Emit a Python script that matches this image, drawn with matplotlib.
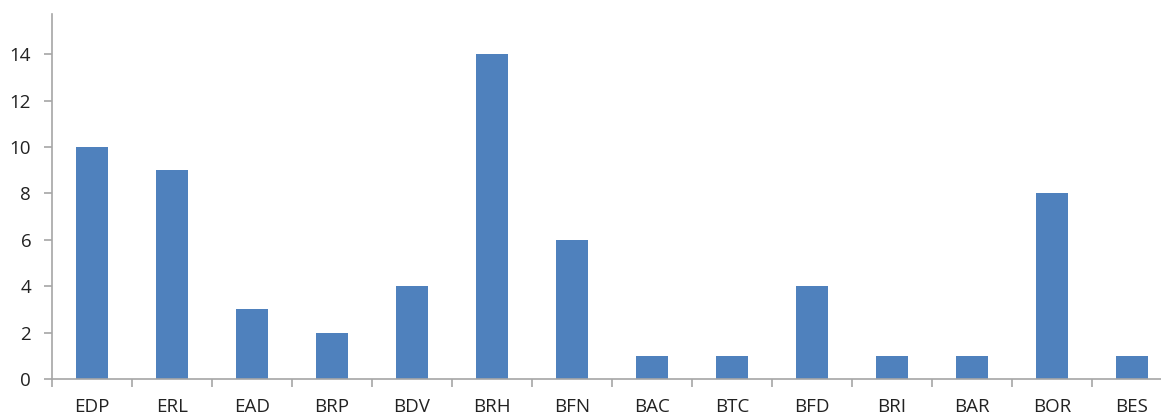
import matplotlib.pyplot as plt

categorias = ['EDP', 'ERL', 'EAD', 'BRP', 'BDV', 'BRH', 'BFN', 'BAC', 'BTC', 'BFD', 'BRI', 'BAR', 'BOR', 'BES']
valores = [10, 9, 3, 2, 4, 14, 6, 1, 1, 4, 1, 1, 8, 1]

plt.rcParams['font.family'] = ['Open Sans', 'DejaVu Sans']

fig = plt.figure(figsize=(11.61, 4.17), dpi=100)
ax = fig.add_axes([52/1161, 38/417, 1120/1161, 365/417])

x = range(len(categorias))
ax.bar(x, valores, width=0.4, color='#4F81BD', zorder=2)

ax.set_xlim(-0.5, len(categorias) - 0.5)
ax.set_ylim(0, 15.73)
ax.set_yticks(range(0, 16, 2))
ax.set_xticks(x)
ax.set_xticklabels(categorias)
ax.set_xticks([i - 0.5 for i in range(len(categorias) + 1)], minor=True)

for s in ['top', 'right']:
    ax.spines[s].set_visible(False)
for s in ['left', 'bottom']:
    ax.spines[s].set_color('#A6A6A6')
    ax.spines[s].set_linewidth(1.2)

ax.tick_params(axis='x', which='major', length=0, pad=14, labelsize=13.5, labelcolor='#222222')
ax.tick_params(axis='x', which='minor', length=6, color='#A6A6A6', width=1.2)
ax.tick_params(axis='y', length=6, color='#A6A6A6', width=1.2, labelsize=13.5, labelcolor='#222222', pad=9)

fig.savefig('out.png', dpi=100)
